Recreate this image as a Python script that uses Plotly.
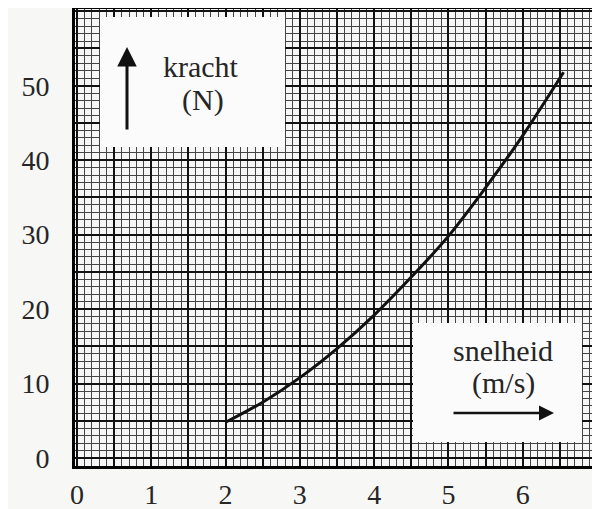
import plotly.graph_objects as go

# Data
snelheid = [2.0, 2.5, 3.0, 3.5, 4.0, 4.5, 5.0, 5.5, 6.0, 6.55]   # m/s
kracht = [4.8, 7.5, 10.8, 14.7, 19.2, 24.3, 29.8, 36.3, 43.3, 51.8]  # N
x_ticks = [0, 1, 2, 3, 4, 5, 6]
y_ticks = [0, 10, 20, 30, 40, 50]

W, H = 600, 509
OFF = 8  # page body margin offset of the figure on screen
# desired plot area on screen: x 75..597, y 8..466
L, R, T, B = 75 - OFF, W - (597 - OFF), 1, H - (466 - OFF)
PW, PH = W - L - R, H - T - B

def px(xs):
    return (xs - OFF - L) / PW

def py(ys):
    return 1 - (ys - OFF - T) / PH

FONT = "Liberation Serif, Times New Roman, serif"
TXT = "#262626"
XR = [-0.027, 7.0]
YR = [-1.07, 60.3]

fig = go.Figure()
fig.add_trace(go.Scatter(x=snelheid, y=kracht, mode="lines",
                         line=dict(color="#111", width=3, shape="spline"),
                         hoverinfo="skip", showlegend=False))
# invisible trace for overlay grid axes
fig.add_trace(go.Scatter(x=[XR[0]], y=[YR[0]], xaxis="x2", yaxis="y2",
                         mode="markers", marker=dict(opacity=0),
                         hoverinfo="skip", showlegend=False))

fig.update_layout(
    width=W, height=H,
    margin=dict(l=L, r=R, t=T, b=B, autoexpand=False),
    paper_bgcolor="#f7f7f5",
    plot_bgcolor="#f6f6f6",
    font=dict(family=FONT, size=28, color=TXT),
    xaxis=dict(range=XR, tickvals=x_ticks, ticks="", showgrid=True,
               gridcolor="#000", gridwidth=2.2, zeroline=False, automargin=False,
               showline=True, linecolor="#000", linewidth=3, mirror=True,
               minor=dict(dtick=0.1, tick0=0, showgrid=True, gridcolor="#444", gridwidth=1.4),
               tickfont=dict(family=FONT, size=28, color=TXT), ticklabelstandoff=1),
    yaxis=dict(range=YR, tickvals=y_ticks, ticks="", showgrid=True,
               gridcolor="#000", gridwidth=2.2, zeroline=False, automargin=False,
               showline=True, linecolor="#000", linewidth=3, mirror=True,
               minor=dict(dtick=1, tick0=0, showgrid=True, gridcolor="#444", gridwidth=1.4),
               tickfont=dict(family=FONT, size=28, color=TXT), ticklabelstandoff=17),
    xaxis2=dict(range=XR, overlaying="x", dtick=0.5, tick0=0, showgrid=True,
                gridcolor="#111", gridwidth=1.8, showticklabels=False, zeroline=False,
                ticks="", automargin=False),
    yaxis2=dict(range=YR, overlaying="y", dtick=5, tick0=0, showgrid=True,
                gridcolor="#111", gridwidth=1.8, showticklabels=False, zeroline=False,
                ticks="", automargin=False),
    showlegend=False,
)

# white label boxes
fig.add_shape(type="rect", xref="paper", yref="paper",
              x0=px(100), x1=px(285), y0=py(147), y1=py(17),
              fillcolor="#fbfbfb", line=dict(width=0), layer="above")
fig.add_shape(type="rect", xref="paper", yref="paper",
              x0=px(413), x1=px(582), y0=py(442), y1=py(323),
              fillcolor="#fbfbfb", line=dict(width=0), layer="above")

labels = [("kracht", 201, 67), ("(N)", 203, 100),
          ("snelheid", 503, 350), ("(m/s)", 503, 383)]
for txt, xs, ys in labels:
    fig.add_annotation(xref="paper", yref="paper", x=px(xs), y=py(ys),
                       xanchor="center", yanchor="middle",
                       text=txt, showarrow=False,
                       font=dict(family=FONT, size=30, color=TXT))

# arrows
fig.add_annotation(xref="paper", yref="paper", axref="pixel", ayref="pixel",
                   x=px(127), y=py(47), ax=0, ay=84, text="",
                   showarrow=True, arrowhead=2, arrowsize=1.3, arrowwidth=3,
                   arrowcolor="#111")
fig.add_annotation(xref="paper", yref="paper", axref="pixel", ayref="pixel",
                   x=px(554), y=py(413), ax=-102, ay=0, text="",
                   showarrow=True, arrowhead=2, arrowsize=1.2, arrowwidth=2.5,
                   arrowcolor="#111")

fig.write_html("out.html")
